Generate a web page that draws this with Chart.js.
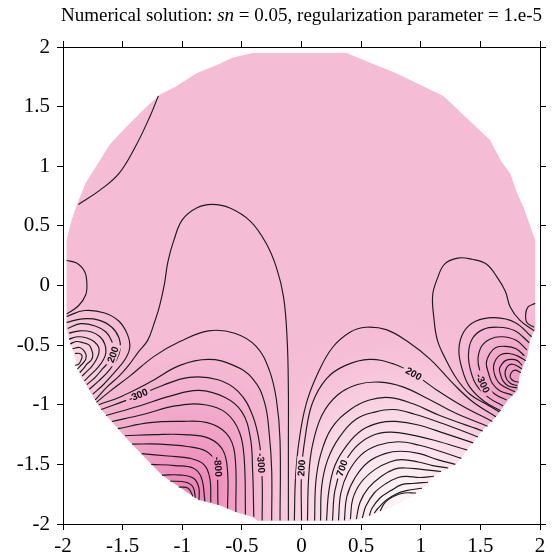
<!DOCTYPE html>
<html>
<head>
<meta charset="utf-8">
<script src="https://cdn.jsdelivr.net/npm/chart.js@4.4.1/dist/chart.umd.min.js"></script>
<style>
  html, body { margin: 0; padding: 0; background: #fff; }
  #wrap { width: 552px; height: 558px; position: relative; }
</style>
</head>
<body>
<div id="wrap"><canvas id="chart"></canvas></div>
<script>
// edge of the solution domain (x, y)
const diskEdge = [[-0.41,1.95],[0.38,1.95],[0.57,1.87],[0.77,1.79],[1.02,1.67],[1.19,1.59],[1.58,1.22],[1.67,1.05],[1.75,0.94],[1.81,0.77],[1.86,0.66],[1.90,0.55],[1.96,0.38],[1.96,-0.37],[1.92,-0.44],[1.89,-0.60],[1.83,-0.74],[1.81,-0.88],[1.73,-0.96],[1.64,-1.09],[1.52,-1.21],[1.41,-1.35],[1.30,-1.49],[1.13,-1.58],[0.97,-1.74],[0.74,-1.86],[0.55,-1.94],[0.41,-1.97],[-0.37,-1.97],[-0.41,-1.94],[-0.55,-1.90],[-0.69,-1.84],[-0.85,-1.80],[-0.95,-1.74],[-1.17,-1.59],[-1.45,-1.30],[-1.68,-1.04],[-1.85,-0.76],[-1.90,-0.60],[-1.97,-0.37],[-1.97,0.38],[-1.93,0.54],[-1.89,0.66],[-1.81,0.86],[-1.69,1.05],[-1.61,1.18],[-1.47,1.33],[-1.33,1.47],[-1.19,1.60],[-1.05,1.67],[-0.88,1.78],[-0.71,1.85],[-0.58,1.91],[-0.41,1.95]];

// single contour lines
const topLeftLine = [[-1.20,1.59],[-1.27,1.42],[-1.39,1.17],[-1.53,0.94],[-1.69,0.80],[-1.87,0.68]];
const leftEdgeLoop = [[-1.97,0.21],[-1.89,0.19],[-1.82,0.12],[-1.80,0.02],[-1.81,-0.08],[-1.87,-0.17],[-1.97,-0.24]];
const zeroLoopMid = [[-1.73,-0.96],[-1.63,-0.85],[-1.53,-0.76],[-1.45,-0.67],[-1.37,-0.56],[-1.29,-0.46],[-1.24,-0.33],[-1.19,-0.17],[-1.15,0.01],[-1.12,0.20],[-1.07,0.38],[-1.00,0.55],[-0.88,0.65],[-0.75,0.68],[-0.60,0.65],[-0.43,0.54],[-0.30,0.36],[-0.21,0.15],[-0.15,-0.10],[-0.12,-0.46],[-0.11,-0.88],[-0.11,-1.30],[-0.11,-1.97]];
const zeroLoopRight = [[1.95,-0.38],[1.83,-0.29],[1.75,-0.18],[1.71,-0.05],[1.64,0.07],[1.55,0.18],[1.43,0.22],[1.31,0.23],[1.20,0.18],[1.14,0.06],[1.10,-0.08],[1.11,-0.27],[1.14,-0.46],[1.21,-0.62],[1.30,-0.78],[1.41,-0.91],[1.54,-0.99],[1.66,-1.06]];
const rightEdgeLoop = [[1.96,-0.15],[1.90,-0.18],[1.88,-0.24],[1.89,-0.31],[1.95,-0.35]];

// nested bowls on the left edge (outer to inner)
const leftBowls = [
  [[-1.97,-0.26],[-1.82,-0.21],[-1.65,-0.23],[-1.53,-0.30],[-1.46,-0.41],[-1.44,-0.52],[-1.48,-0.62],[-1.57,-0.73],[-1.66,-0.83],[-1.75,-0.91]],
  [[-1.97,-0.31],[-1.84,-0.28],[-1.70,-0.29],[-1.59,-0.35],[-1.53,-0.44],[-1.52,-0.53],[-1.55,-0.62],[-1.62,-0.72],[-1.70,-0.80],[-1.78,-0.87]],
  [[-1.96,-0.36],[-1.85,-0.32],[-1.73,-0.34],[-1.64,-0.39],[-1.59,-0.47],[-1.57,-0.54],[-1.60,-0.62],[-1.67,-0.70],[-1.73,-0.77],[-1.80,-0.83]],
  [[-1.95,-0.40],[-1.86,-0.38],[-1.76,-0.39],[-1.69,-0.43],[-1.65,-0.49],[-1.64,-0.56],[-1.66,-0.62],[-1.71,-0.69],[-1.77,-0.75],[-1.82,-0.80]],
  [[-1.95,-0.45],[-1.88,-0.43],[-1.80,-0.44],[-1.74,-0.47],[-1.70,-0.52],[-1.70,-0.57],[-1.72,-0.62],[-1.76,-0.68],[-1.80,-0.72],[-1.84,-0.76]],
  [[-1.94,-0.49],[-1.89,-0.47],[-1.83,-0.48],[-1.78,-0.50],[-1.76,-0.54],[-1.75,-0.58],[-1.76,-0.62],[-1.80,-0.66],[-1.83,-0.70],[-1.86,-0.73]],
  [[-1.92,-0.53],[-1.86,-0.52],[-1.81,-0.57],[-1.81,-0.62],[-1.86,-0.68],[-1.88,-0.70]],
  [[-1.90,-0.57],[-1.86,-0.57],[-1.84,-0.59],[-1.85,-0.63],[-1.87,-0.66],[-1.90,-0.67]]
];

// nested bowls on the right edge (outer to inner)
const rightBowls = [
  [[1.93,-0.43],[1.79,-0.31],[1.62,-0.27],[1.46,-0.30],[1.36,-0.39],[1.32,-0.54],[1.35,-0.71],[1.41,-0.85],[1.53,-0.97],[1.67,-1.05]],
  [[1.91,-0.48],[1.79,-0.38],[1.65,-0.35],[1.52,-0.37],[1.43,-0.45],[1.40,-0.58],[1.42,-0.72],[1.47,-0.84],[1.57,-0.94],[1.69,-1.01]],
  [[1.89,-0.54],[1.80,-0.46],[1.68,-0.43],[1.58,-0.45],[1.51,-0.51],[1.48,-0.62],[1.50,-0.73],[1.54,-0.83],[1.62,-0.91],[1.72,-0.96]],
  [[1.87,-0.59],[1.80,-0.53],[1.71,-0.51],[1.63,-0.52],[1.58,-0.57],[1.55,-0.65],[1.57,-0.74],[1.60,-0.82],[1.66,-0.88],[1.77,-0.92]],
  [[1.88,-0.63],[1.81,-0.59],[1.74,-0.57],[1.67,-0.58],[1.63,-0.62],[1.61,-0.68],[1.62,-0.75],[1.65,-0.81],[1.70,-0.85],[1.79,-0.89]],
  [[1.85,-0.67],[1.81,-0.63],[1.76,-0.62],[1.71,-0.63],[1.68,-0.66],[1.66,-0.70],[1.67,-0.75],[1.69,-0.80],[1.73,-0.84],[1.81,-0.86]],
  [[1.85,-0.70],[1.77,-0.66],[1.72,-0.69],[1.71,-0.76],[1.75,-0.82],[1.81,-0.84]],
  [[1.84,-0.73],[1.79,-0.71],[1.76,-0.73],[1.75,-0.77],[1.78,-0.80],[1.82,-0.81]]
];

// arcs round the dark spot, bottom left (-100 down to -1300)
const darkArcs = [
  [[-1.72,-0.98],[-1.61,-0.89],[-1.44,-0.76],[-1.23,-0.59],[-1.02,-0.47],[-0.78,-0.38],[-0.56,-0.40],[-0.38,-0.51],[-0.27,-0.71],[-0.21,-0.96],[-0.18,-1.30],[-0.18,-1.97]],
  [[-1.70,-1.00],[-1.51,-0.93],[-1.27,-0.81],[-1.02,-0.67],[-0.78,-0.62],[-0.57,-0.67],[-0.41,-0.78],[-0.31,-0.98],[-0.27,-1.25],[-0.25,-1.55],[-0.25,-1.97]],
  [[-1.68,-1.04],[-1.41,-0.94],[-1.17,-0.84],[-0.94,-0.77],[-0.70,-0.79],[-0.53,-0.89],[-0.41,-1.09],[-0.35,-1.34],[-0.33,-1.63],[-0.33,-1.97]],
  [[-1.64,-1.09],[-1.36,-1.01],[-1.11,-0.93],[-0.86,-0.88],[-0.64,-0.94],[-0.50,-1.06],[-0.43,-1.27],[-0.41,-1.55],[-0.40,-1.94]],
  [[-1.59,-1.14],[-1.32,-1.08],[-1.06,-1.01],[-0.81,-1.00],[-0.63,-1.07],[-0.52,-1.23],[-0.48,-1.46],[-0.47,-1.92]],
  [[-1.54,-1.20],[-1.27,-1.15],[-1.02,-1.14],[-0.79,-1.15],[-0.63,-1.24],[-0.56,-1.41],[-0.55,-1.90]],
  [[-1.48,-1.26],[-1.23,-1.25],[-0.98,-1.25],[-0.78,-1.28],[-0.66,-1.38],[-0.62,-1.56],[-0.62,-1.87]],
  [[-1.42,-1.33],[-1.19,-1.33],[-0.96,-1.35],[-0.80,-1.39],[-0.72,-1.49],[-0.70,-1.84]],
  [[-1.34,-1.41],[-1.12,-1.43],[-0.93,-1.45],[-0.82,-1.50],[-0.77,-1.61],[-0.76,-1.82]],
  [[-1.26,-1.50],[-1.06,-1.51],[-0.91,-1.53],[-0.84,-1.61],[-0.81,-1.81]],
  [[-1.17,-1.59],[-1.01,-1.59],[-0.90,-1.62],[-0.86,-1.70],[-0.86,-1.80]],
  [[-1.10,-1.64],[-0.97,-1.65],[-0.91,-1.69],[-0.89,-1.78]],
  [[-1.03,-1.69],[-0.95,-1.70],[-0.91,-1.77]]
];

// arcs round the light spot, bottom right (100 up to 1500)
const lightArcs = [
  [[-0.06,-1.97],[-0.05,-1.61],[-0.02,-1.30],[0.04,-0.99],[0.14,-0.73],[0.26,-0.52],[0.41,-0.39],[0.54,-0.35],[0.71,-0.37],[0.89,-0.47],[1.08,-0.62],[1.26,-0.81],[1.43,-0.97],[1.63,-1.10]],
  [[0.00,-1.97],[0.00,-1.56],[0.03,-1.28],[0.09,-0.99],[0.21,-0.78],[0.37,-0.67],[0.57,-0.62],[0.78,-0.66],[0.94,-0.74],[1.14,-0.88],[1.35,-1.01],[1.60,-1.14]],
  [[0.05,-1.97],[0.06,-1.61],[0.09,-1.35],[0.17,-1.09],[0.30,-0.92],[0.47,-0.83],[0.66,-0.81],[0.85,-0.85],[1.06,-0.95],[1.29,-1.07],[1.56,-1.18]],
  [[0.11,-1.97],[0.12,-1.65],[0.16,-1.42],[0.25,-1.20],[0.41,-1.04],[0.57,-0.96],[0.74,-0.94],[0.93,-0.99],[1.16,-1.09],[1.52,-1.22]],
  [[0.16,-1.97],[0.17,-1.68],[0.22,-1.46],[0.32,-1.27],[0.46,-1.12],[0.62,-1.06],[0.77,-1.04],[0.95,-1.08],[1.19,-1.16],[1.48,-1.27]],
  [[0.21,-1.97],[0.23,-1.72],[0.28,-1.51],[0.38,-1.34],[0.51,-1.21],[0.66,-1.15],[0.79,-1.14],[0.98,-1.17],[1.20,-1.24],[1.44,-1.32]],
  [[0.26,-1.97],[0.28,-1.72],[0.34,-1.53],[0.45,-1.36],[0.59,-1.26],[0.74,-1.23],[0.91,-1.25],[1.12,-1.30],[1.39,-1.38]],
  [[0.31,-1.97],[0.33,-1.74],[0.39,-1.57],[0.50,-1.42],[0.64,-1.34],[0.81,-1.31],[0.99,-1.34],[1.16,-1.39],[1.34,-1.45]],
  [[0.36,-1.97],[0.38,-1.77],[0.45,-1.61],[0.56,-1.48],[0.70,-1.41],[0.83,-1.39],[0.99,-1.41],[1.14,-1.46],[1.29,-1.50]],
  [[0.41,-1.96],[0.43,-1.79],[0.50,-1.65],[0.62,-1.54],[0.74,-1.48],[0.84,-1.46],[0.98,-1.48],[1.10,-1.51],[1.23,-1.53]],
  [[0.46,-1.96],[0.49,-1.82],[0.56,-1.70],[0.67,-1.60],[0.78,-1.54],[0.87,-1.53],[0.99,-1.54],[1.17,-1.56]],
  [[0.51,-1.95],[0.54,-1.85],[0.61,-1.74],[0.71,-1.66],[0.81,-1.61],[0.88,-1.60],[0.99,-1.61],[1.11,-1.60]],
  [[0.57,-1.93],[0.59,-1.87],[0.66,-1.78],[0.75,-1.72],[0.84,-1.67],[0.93,-1.66],[1.06,-1.65]],
  [[0.61,-1.91],[0.64,-1.87],[0.71,-1.80],[0.79,-1.75],[0.88,-1.72],[1.01,-1.70]],
  [[0.66,-1.89],[0.70,-1.82],[0.77,-1.77],[0.86,-1.74],[0.96,-1.74]]
];

// inline contour labels
const labelText = ['200', '-300', '-800', '-300', '200', '700', '200', '-300'];
const labelX = [-1.58, -1.37, -0.70, -0.34, 0.00, 0.34, 0.94, 1.52];
const labelY = [-0.58, -0.92, -1.52, -1.49, -1.53, -1.53, -0.74, -0.82];
const labelAngle = [-70, -23, 86, 87, -86, -70, 30, 65];

const toPts = arr => arr.map(p => ({ x: p[0], y: p[1] }));

function shade(cx, cy, r, stops) {
  return function(context) {
    const chart = context.chart;
    if (!chart.chartArea || !chart.scales.x) return 'rgba(0,0,0,0)';
    const xs = chart.scales.x, ys = chart.scales.y;
    const px = xs.getPixelForValue(cx), py = ys.getPixelForValue(cy);
    const pr = Math.abs(xs.getPixelForValue(r) - xs.getPixelForValue(0));
    const g = chart.ctx.createRadialGradient(px, py, 0, px, py, pr);
    stops.forEach(s => g.addColorStop(s[0], s[1]));
    return g;
  };
}

function fillSet(bg, order) {
  return {
    data: toPts(diskEdge), showLine: true, fill: 'shape', backgroundColor: bg,
    borderColor: 'rgba(0,0,0,0)', borderWidth: 0, pointRadius: 0, tension: 0, order: order, isFill: true
  };
}

const datasets = [
  fillSet('rgb(245,188,214)', 100),
  fillSet(shade(-0.94, -1.76, 1.45, [[0, 'rgb(236,130,181)'], [0.15, 'rgb(238,142,188)'], [0.4, 'rgb(241,162,199)'], [0.7, 'rgba(243,178,207,0.65)'], [1, 'rgba(245,187,213,0)']]), 99),
  fillSet(shade(0.84, -1.82, 1.55, [[0, 'rgb(254,246,249)'], [0.2, 'rgb(252,234,241)'], [0.5, 'rgb(250,215,229)'], [0.8, 'rgba(247,198,219,0.5)'], [1, 'rgba(245,187,213,0)']]), 98),
  fillSet(shade(1.82, -0.78, 0.62, [[0, 'rgb(240,152,195)'], [0.45, 'rgb(242,168,203)'], [0.8, 'rgba(244,180,209,0.5)'], [1, 'rgba(245,187,213,0)']]), 97),
  fillSet(shade(-1.93, -0.62, 0.52, [[0, 'rgb(251,222,234)'], [0.5, 'rgba(248,205,222,0.8)'], [1, 'rgba(245,187,213,0)']]), 96)
];

const contourLines = [topLeftLine, leftEdgeLoop, zeroLoopMid, zeroLoopRight, rightEdgeLoop]
  .concat(leftBowls, rightBowls, darkArcs, lightArcs);
contourLines.forEach(line => {
  datasets.push({
    data: toPts(line), showLine: true, fill: false, borderColor: '#1b1b1b', borderWidth: 1.15,
    pointRadius: 0, tension: 0.4, order: 0
  });
});

const contourLabelPlugin = {
  id: 'contourLabels',
  beforeDraw(chart) { chart.$labelBg = null; },
  beforeDatasetDraw(chart, args) {
    if (chart.$labelBg || chart.data.datasets[args.index].isFill) return;
    const xs = chart.scales.x, ys = chart.scales.y;
    chart.$labelBg = labelText.map((t, i) => {
      const px = Math.round(xs.getPixelForValue(labelX[i]));
      const py = Math.round(ys.getPixelForValue(labelY[i]));
      const d = chart.ctx.getImageData(px, py, 1, 1).data;
      return 'rgb(' + d[0] + ',' + d[1] + ',' + d[2] + ')';
    });
  },
  afterDatasetsDraw(chart) {
    const ctx = chart.ctx;
    const xs = chart.scales.x, ys = chart.scales.y;
    labelText.forEach((t, i) => {
      ctx.save();
      ctx.translate(xs.getPixelForValue(labelX[i]), ys.getPixelForValue(labelY[i]));
      ctx.rotate(labelAngle[i] * Math.PI / 180);
      ctx.font = "bold 10px 'Liberation Sans', Arial, sans-serif";
      const w = ctx.measureText(t).width;
      ctx.fillStyle = chart.$labelBg ? chart.$labelBg[i] : 'rgb(245,188,214)';
      ctx.fillRect(-w / 2 - 3, -5, w + 6, 10);
      ctx.fillStyle = '#111';
      ctx.textAlign = 'center';
      ctx.textBaseline = 'middle';
      ctx.fillText(t, 0, 0.5);
      ctx.restore();
    });
  }
};

const titlePlugin = {
  id: 'mixedTitle',
  afterDraw(chart) {
    const ctx = chart.ctx;
    const parts = [['Numerical solution: ', false], ['sn', true], [' = 0.05, regularization parameter = 1.e-5', false]];
    const fontFor = it => (it ? 'italic ' : '') + "19px 'Liberation Serif', 'Times New Roman', serif";
    let total = 0;
    parts.forEach(p => { ctx.font = fontFor(p[1]); total += ctx.measureText(p[0]).width; });
    let x = (chart.chartArea.left + chart.chartArea.right) / 2 - total / 2;
    ctx.save();
    ctx.fillStyle = '#000';
    ctx.textBaseline = 'alphabetic';
    parts.forEach(p => {
      ctx.font = fontFor(p[1]);
      ctx.fillText(p[0], x, 21);
      x += ctx.measureText(p[0]).width;
    });
    ctx.restore();
  }
};

const axisFont = { family: "'Liberation Serif', 'Times New Roman', serif", size: 21 };
function axis(position, showLabels, fitSize) {
  return {
    type: 'linear', position: position, min: -2, max: 2,
    ticks: {
      stepSize: 0.5, display: showLabels, color: '#000', font: axisFont,
      padding: position === 'left' ? 7 : 4, maxRotation: 0, autoSkip: false,
      callback: v => String(v)
    },
    grid: { drawOnChartArea: false, drawTicks: true, tickLength: 6, color: '#000', lineWidth: 1 },
    border: { display: true, color: '#000', width: 1 },
    afterFit(scale) {
      if (scale.isHorizontal()) scale.height = fitSize; else scale.width = fitSize;
    }
  };
}

new Chart(document.getElementById('chart'), {
  type: 'scatter',
  data: { datasets: datasets },
  options: {
    responsive: true,
    maintainAspectRatio: false,
    animation: false,
    events: [],
    layout: { padding: 0 },
    plugins: { legend: { display: false }, tooltip: { enabled: false }, title: { display: false } },
    scales: {
      x: axis('bottom', true, 34),
      y: axis('left', true, 63),
      x2: axis('top', false, 47),
      y2: axis('right', false, 12)
    }
  },
  plugins: [contourLabelPlugin, titlePlugin]
});
</script>
</body>
</html>
